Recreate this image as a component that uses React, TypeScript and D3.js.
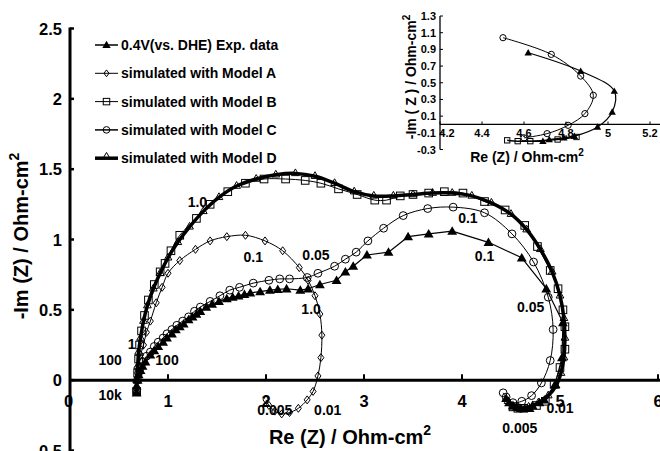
import React from "react";
import * as d3 from "d3";

type Pt = [number, number];

// Nyquist data: [Re(Z), -Im(Z)] in Ohm-cm², high frequency first
const expData: Pt[] = [
  [0.68, -0.09], [0.68, -0.04], [0.69, 0.0], [0.7, 0.04], [0.72, 0.07], [0.74, 0.1], [0.77, 0.13],
  [0.82, 0.18], [0.86, 0.21], [0.9, 0.24], [0.95, 0.27], [0.99, 0.3], [1.04, 0.33], [1.08, 0.36],
  [1.12, 0.38], [1.16, 0.4], [1.21, 0.43], [1.25, 0.45], [1.29, 0.47], [1.33, 0.49], [1.39, 0.52],
  [1.45, 0.54], [1.52, 0.56], [1.6, 0.58], [1.66, 0.59], [1.72, 0.6], [1.78, 0.61], [1.84, 0.62],
  [1.94, 0.63], [2.04, 0.64], [2.12, 0.645], [2.21, 0.65], [2.35, 0.64], [2.43, 0.65], [2.55, 0.68],
  [2.72, 0.71], [2.81, 0.77], [2.89, 0.81], [3.03, 0.89], [3.25, 0.91], [3.45, 1.02], [3.66, 1.04],
  [3.9, 1.06], [4.27, 0.98], [4.61, 0.87], [4.86, 0.65], [5.03, 0.41], [5.02, 0.16], [4.95, -0.03],
  [4.84, -0.14], [4.79, -0.16], [4.72, -0.18], [4.69, -0.2], [4.64, -0.2], [4.6, -0.2], [4.56, -0.19],
  [4.52, -0.18], [4.48, -0.16], [4.45, -0.13],
];

const modelA: Pt[] = [
  [0.68, -0.08], [0.69, 0.02], [0.7, 0.1], [0.72, 0.18], [0.75, 0.25], [0.78, 0.34], [0.82, 0.42],
  [0.88, 0.55], [0.94, 0.66], [1.0, 0.76], [1.12, 0.85], [1.28, 0.93], [1.43, 0.99], [1.6, 1.02],
  [1.79, 1.03], [1.99, 0.99], [2.17, 0.92], [2.34, 0.8], [2.43, 0.71], [2.5, 0.6], [2.55, 0.47],
  [2.57, 0.32], [2.56, 0.16], [2.53, 0.03], [2.48, -0.08], [2.42, -0.14], [2.33, -0.2], [2.24, -0.23],
  [2.16, -0.24], [2.09, -0.22], [2.03, -0.18], [2.0, -0.14],
];

const modelB: Pt[] = [
  [0.68, -0.08], [0.69, 0.05], [0.7, 0.15], [0.71, 0.25], [0.73, 0.35], [0.76, 0.46], [0.8, 0.57],
  [0.86, 0.68], [0.92, 0.77], [0.97, 0.83], [1.03, 0.92], [1.12, 1.03], [1.29, 1.15], [1.43, 1.25],
  [1.61, 1.34], [1.79, 1.4], [1.98, 1.43], [2.2, 1.43], [2.4, 1.42], [2.56, 1.4], [2.74, 1.36],
  [2.93, 1.32], [3.11, 1.28], [3.23, 1.28], [3.37, 1.31], [3.5, 1.32], [3.66, 1.33], [3.82, 1.34],
  [4.01, 1.33], [4.23, 1.27], [4.44, 1.21], [4.64, 1.1], [4.77, 0.95], [4.9, 0.78], [4.98, 0.65],
  [5.03, 0.5], [5.05, 0.38], [5.05, 0.22], [5.0, 0.09], [4.94, -0.03], [4.85, -0.15], [4.76, -0.18],
  [4.63, -0.2], [4.57, -0.2], [4.52, -0.19],
];

const modelC: Pt[] = [
  [0.68, -0.08], [0.69, 0.0], [0.7, 0.05], [0.72, 0.09], [0.75, 0.13], [0.78, 0.17], [0.82, 0.2],
  [0.86, 0.24], [0.9, 0.27], [0.95, 0.3], [0.99, 0.33], [1.04, 0.36], [1.09, 0.39], [1.15, 0.42],
  [1.21, 0.45], [1.27, 0.49], [1.33, 0.52], [1.43, 0.56], [1.53, 0.6], [1.63, 0.64], [1.73, 0.66],
  [1.87, 0.69], [2.03, 0.71], [2.14, 0.72], [2.24, 0.72], [2.42, 0.73], [2.53, 0.76], [2.7, 0.81],
  [2.81, 0.86], [2.92, 0.91], [3.04, 0.99], [3.2, 1.08], [3.4, 1.17], [3.65, 1.22], [3.91, 1.23],
  [4.23, 1.19], [4.51, 1.04], [4.73, 0.84], [4.88, 0.59], [4.93, 0.36], [4.9, 0.14], [4.81, -0.02],
  [4.71, -0.11], [4.61, -0.15], [4.52, -0.16], [4.45, -0.12], [4.42, -0.09],
];

const modelD: Pt[] = [
  [0.68, -0.08], [0.68, 0.0], [0.69, 0.1], [0.7, 0.2], [0.72, 0.3], [0.75, 0.42], [0.79, 0.53],
  [0.85, 0.65], [0.92, 0.76], [1.0, 0.87], [1.1, 0.98], [1.22, 1.09], [1.36, 1.2], [1.52, 1.3],
  [1.7, 1.38], [1.9, 1.43], [2.1, 1.46], [2.3, 1.47], [2.5, 1.45], [2.7, 1.4], [2.9, 1.34],
  [3.1, 1.31], [3.3, 1.31], [3.5, 1.32], [3.7, 1.33], [3.9, 1.33], [4.1, 1.31], [4.3, 1.26],
  [4.5, 1.18], [4.66, 1.07], [4.8, 0.93], [4.92, 0.77], [5.0, 0.6], [5.04, 0.44], [5.05, 0.3],
  [5.04, 0.16], [5.01, 0.05], [4.96, -0.04], [4.88, -0.11], [4.78, -0.16], [4.68, -0.19],
  [4.58, -0.2], [4.52, -0.19], [4.47, -0.15],
];

// Low-frequency detail (inset)
const insetExp: Pt[] = [
  [4.62, 0.86], [4.87, 0.64], [5.03, 0.4], [5.02, 0.15], [4.95, -0.03], [4.84, -0.14],
  [4.79, -0.16], [4.72, -0.18], [4.69, -0.2], [4.6, -0.2],
];
const insetModelC: Pt[] = [
  [4.5, 1.04], [4.73, 0.84], [4.87, 0.58], [4.93, 0.35], [4.89, 0.13], [4.81, -0.01],
  [4.71, -0.11], [4.6, -0.16],
];
const insetModelB: Pt[] = [
  [4.52, -0.19], [4.57, -0.2], [4.63, -0.2], [4.76, -0.18], [4.85, -0.15],
];

// Frequency annotations (Hz) at Nyquist coordinates
const freqLabels: { text: string; re: number; im: number }[] = [
  { text: "1.0", re: 1.3, im: 1.27 },
  { text: "0.1", re: 1.87, im: 0.875 },
  { text: "0.05", re: 2.51, im: 0.89 },
  { text: "1.0", re: 2.46, im: 0.505 },
  { text: "0.1", re: 4.06, im: 1.15 },
  { text: "0.1", re: 4.23, im: 0.88 },
  { text: "0.05", re: 4.7, im: 0.52 },
  { text: "0.005", re: 4.59, im: -0.34 },
  { text: "0.01", re: 5.0, im: -0.2 },
  { text: "0.005", re: 2.09, im: -0.21 },
  { text: "0.01", re: 2.63, im: -0.21 },
  { text: "100", re: 0.41, im: 0.14 },
  { text: "100", re: 0.99, im: 0.14 },
  { text: "1", re: 0.63, im: 0.26 },
  { text: "10k", re: 0.41, im: -0.107 },
];

const xTicks = [0, 1, 2, 3, 4, 5, 6];
const yTicks = [-0.5, 0, 0.5, 1, 1.5, 2, 2.5];
const insetXTicks = [4.2, 4.4, 4.6, 4.8, 5, 5.2];
const insetYTicks = [-0.3, -0.1, 0.1, 0.3, 0.5, 0.7, 0.9, 1.1, 1.3];

const legendItems = [
  "0.4V(vs. DHE) Exp. data",
  "simulated with Model A",
  "simulated with Model B",
  "simulated with Model C",
  "simulated with Model D",
];

const FONT = "'Liberation Sans', Arial, Helvetica, sans-serif";
const NARROW = "'Liberation Sans Narrow', 'Arial Narrow', 'Liberation Sans', Arial, sans-serif";

type MarkerKind = "triFill" | "diamond" | "square" | "circle" | "triOpen";

function Marker({ kind, cx, cy, s = 1 }: { kind: MarkerKind; cx: number; cy: number; s?: number }) {
  if (kind === "triFill") {
    const d = d3.symbol(d3.symbolTriangle, 42 * s * s)();
    return <path d={d || ""} transform={`translate(${cx},${cy + 0.8 * s})`} fill="#000" />;
  }
  if (kind === "triOpen") {
    const d = d3.symbol(d3.symbolTriangle, 26 * s * s)();
    return <path d={d || ""} transform={`translate(${cx},${cy})`} fill="none" stroke="#000" strokeWidth={1} />;
  }
  if (kind === "diamond") {
    const w = 3 * s, h = 4 * s;
    return (
      <path
        d={`M${cx},${cy - h}L${cx + w},${cy}L${cx},${cy + h}L${cx - w},${cy}Z`}
        fill="none"
        stroke="#000"
        strokeWidth={1}
      />
    );
  }
  if (kind === "square") {
    const h = 3.8 * s;
    return <rect x={cx - h} y={cy - h} width={2 * h} height={2 * h} fill="none" stroke="#000" strokeWidth={1} />;
  }
  return <circle cx={cx} cy={cy} r={3.9 * s} fill="none" stroke="#000" strokeWidth={1} />;
}

export default function App() {
  const x = d3.scaleLinear().domain([0, 6]).range([70, 658]);
  const y = d3.scaleLinear().domain([-0.5, 2.5]).range([450.5, 28.5]);

  const xi = d3.scaleLinear().domain([4.2, 5.2]).range([440, 650]);
  const yi = d3.scaleLinear().domain([-0.3, 1.3]).range([149.5, 16]);

  const smooth = d3
    .line<Pt>()
    .x((d) => x(d[0]))
    .y((d) => y(d[1]))
    .curve(d3.curveCatmullRom.alpha(0.5));
  const straight = d3
    .line<Pt>()
    .x((d) => x(d[0]))
    .y((d) => y(d[1]));
  const smoothInset = d3
    .line<Pt>()
    .x((d) => xi(d[0]))
    .y((d) => yi(d[1]))
    .curve(d3.curveCatmullRom.alpha(0.5));

  const y0 = y(0);
  const xi0 = yi(0);

  const series: { data: Pt[]; kind: MarkerKind; width: number; curve: "smooth" | "straight" }[] = [
    { data: modelC, kind: "circle", width: 1, curve: "smooth" },
    { data: expData, kind: "triFill", width: 1.2, curve: "straight" },
    { data: modelA, kind: "diamond", width: 1, curve: "smooth" },
    { data: modelB, kind: "square", width: 1, curve: "smooth" },
    { data: modelD, kind: "triOpen", width: 3.5, curve: "smooth" },
  ];

  const legendKinds: MarkerKind[] = ["triFill", "diamond", "square", "circle", "triOpen"];
  const legendWidths = [1.5, 1, 1, 1.5, 3.5];

  return (
    <svg
      width={660}
      height={451}
      viewBox="0 0 660 451"
      style={{ position: "absolute", left: 0, top: 0, background: "#fff" }}
    >
      <rect x={0} y={0} width={660} height={451} fill="#fff" />

      {/* main axes */}
      <line x1={x(0)} x2={x(0)} y1={y(2.5) - 1} y2={451} stroke="#000" strokeWidth={3} />
      <line x1={x(0)} x2={660} y1={y0} y2={y0} stroke="#000" strokeWidth={3} />
      {yTicks.map((t) => (
        <g key={`yt${t}`}>
          <line x1={x(0)} x2={x(0) + 4} y1={y(t)} y2={y(t)} stroke="#000" strokeWidth={2.5} />
          <text
            x={62}
            y={y(t)}
            textAnchor="end"
            dominantBaseline="central"
            fontFamily={FONT}
            fontWeight="bold"
            fontSize={16.5}
          >
            {t === 0 ? "0" : String(t)}
          </text>
        </g>
      ))}
      {xTicks.map((t) => (
        <g key={`xt${t}`}>
          {t > 0 && <line x1={x(t)} x2={x(t)} y1={y0} y2={y0 - 6} stroke="#000" strokeWidth={2} />}
          <text
            x={x(t) - (t === 0 ? 1.5 : 0)}
            y={401}
            textAnchor="middle"
            dominantBaseline="central"
            fontFamily={FONT}
            fontWeight="bold"
            fontSize={16.5}
          >
            {String(t)}
          </text>
        </g>
      ))}

      {/* axis titles */}
      <text x={350} y={437} textAnchor="middle" dominantBaseline="central" fontFamily={FONT} fontWeight="bold" fontSize={20}>
        Re (Z) / Ohm-cm<tspan dy={-7} fontSize={14}>2</tspan>
      </text>
      <text
        transform="translate(21,236) rotate(-90)"
        textAnchor="middle"
        dominantBaseline="central"
        fontFamily={FONT}
        fontWeight="bold"
        fontSize={20}
      >
        -Im (Z) / Ohm-cm<tspan dy={-7} fontSize={14}>2</tspan>
      </text>

      {/* data lines */}
      {series.map((s, i) => (
        <path
          key={`line${i}`}
          d={(s.curve === "smooth" ? smooth(s.data) : straight(s.data)) || ""}
          fill="none"
          stroke="#000"
          strokeWidth={s.width}
          strokeLinejoin="round"
        />
      ))}
      {series.map((s, i) => (
        <g key={`mk${i}`}>
          {s.data.map((d, j) => (
            <Marker key={j} kind={s.kind} cx={x(d[0])} cy={y(d[1])} />
          ))}
        </g>
      ))}

      {/* frequency annotations */}
      {freqLabels.map((f, i) => (
        <text
          key={`fl${i}`}
          x={x(f.re)}
          y={y(f.im)}
          textAnchor="middle"
          dominantBaseline="central"
          fontFamily={NARROW}
          fontWeight="bold"
          fontSize={14}
        >
          {f.text}
        </text>
      ))}

      {/* legend */}
      {legendItems.map((label, i) => {
        const cy = 45 + i * 28.3;
        return (
          <g key={`lg${i}`}>
            <line x1={95} x2={118} y1={cy} y2={cy} stroke="#000" strokeWidth={legendWidths[i]} />
            <Marker kind={legendKinds[i]} cx={106.5} cy={legendKinds[i] === "triOpen" ? cy - 2 : cy} s={0.85} />
            <text x={121} y={cy} dominantBaseline="central" fontFamily={FONT} fontWeight="bold" fontSize={14}>
              {label}
            </text>
          </g>
        );
      })}

      {/* inset: low-frequency region */}
      <g>
        <line x1={xi(4.2)} x2={xi(4.2)} y1={yi(1.3)} y2={yi(-0.3)} stroke="#000" strokeWidth={1.3} />
        <line x1={xi(4.2)} x2={660} y1={xi0} y2={xi0} stroke="#000" strokeWidth={1.3} />
        {insetYTicks.map((t) => (
          <g key={`iyt${t}`}>
            <line x1={xi(4.2)} x2={xi(4.2) + 3} y1={yi(t)} y2={yi(t)} stroke="#000" strokeWidth={1} />
            <text
              x={436}
              y={yi(t)}
              textAnchor="end"
              dominantBaseline="central"
              fontFamily={FONT}
              fontWeight="bold"
              fontSize={11}
            >
              {t.toFixed(1)}
            </text>
          </g>
        ))}
        {insetXTicks.map((t) => (
          <g key={`ixt${t}`}>
            <line x1={xi(t)} x2={xi(t)} y1={xi0} y2={xi0 - 3} stroke="#000" strokeWidth={1} />
            <text
              x={xi(t) + (t === 4.2 ? 7 : 0)}
              y={xi0 + 9}
              textAnchor="middle"
              dominantBaseline="central"
              fontFamily={FONT}
              fontWeight="bold"
              fontSize={11}
            >
              {t === 5 ? "5" : t.toFixed(1)}
            </text>
          </g>
        ))}
        <text x={527} y={157} textAnchor="middle" dominantBaseline="central" fontFamily={FONT} fontWeight="bold" fontSize={14}>
          Re (Z) / Ohm-cm<tspan dy={-5} fontSize={10}>2</tspan>
        </text>
        <text
          transform="translate(411,77) rotate(-90)"
          textAnchor="middle"
          dominantBaseline="central"
          fontFamily={FONT}
          fontWeight="bold"
          fontSize={14}
        >
          -Im ( Z ) / Ohm-cm<tspan dy={-5} fontSize={10}>2</tspan>
        </text>

        <path d={smoothInset(insetModelB) || ""} fill="none" stroke="#000" strokeWidth={1.5} />
        <path d={smoothInset(insetModelC) || ""} fill="none" stroke="#000" strokeWidth={1} />
        <path d={smoothInset(insetExp) || ""} fill="none" stroke="#000" strokeWidth={1.2} />
        {insetModelB.map((d, j) => (
          <Marker key={`ib${j}`} kind="square" cx={xi(d[0])} cy={yi(d[1])} s={0.7} />
        ))}
        {insetModelC.map((d, j) => (
          <Marker key={`ic${j}`} kind="circle" cx={xi(d[0])} cy={yi(d[1])} s={0.8} />
        ))}
        {insetExp.slice(0, 9).map((d, j) => (
          <Marker key={`ie${j}`} kind="triFill" cx={xi(d[0])} cy={yi(d[1])} s={0.75} />
        ))}
      </g>
    </svg>
  );
}
